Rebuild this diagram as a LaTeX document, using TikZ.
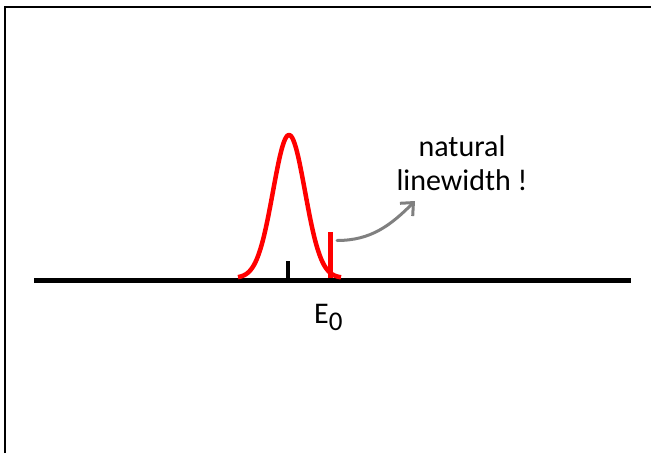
\documentclass[tikz,border=0pt]{standalone}
\usepackage{fontspec}
\setsansfont{Carlito}
\usetikzlibrary{arrows.meta}

\begin{document}
\begin{tikzpicture}[x=1pt, y=-1pt,
      lbl/.style={font=\sffamily\fontsize{30}{34}\selectfont, align=center, inner sep=0pt},
      peak/.style={red, line width=4.5pt, line join=round},
      arr/.style={-{Straight Barb[length=10pt, width=18pt, line width=3pt]}, line width=3pt, gray, line cap=round}]
    \useasboundingbox (0,0) rectangle (651,453);
    \draw[line width=2.5pt] (5,453) -- (5,7) -- (651,7);
    \coordinate (axl) at (34,280.5);
    \coordinate (axr) at (631,280.5);
    \draw[line width=5pt] (axl) -- (axr);
    \draw[peak] plot[domain=238:341, samples=90, smooth]
      (\x, {278 - 143*exp(-((\x-289)^2)/(2*16^2))});
    \draw[line width=4pt] (288,278) -- (288,261);
    \coordinate (bar) at (330,278);
    \coordinate (bartop) at (330,232);
    \draw[red, line width=5pt] (bar) -- (bartop);
    \coordinate (start) at (337,240.5);
    \coordinate (tip) at (415,201);
    \node[lbl] (nat) at (462,163) {natural\\linewidth !};
    \node[lbl, anchor=base west] (e0) at (314,323) {E\raisebox{-7pt}{\fontsize{27}{27}\selectfont 0}};
    \draw[arr] (start) to[out=0, in=225] (tip);
  \end{tikzpicture}
\end{document}
